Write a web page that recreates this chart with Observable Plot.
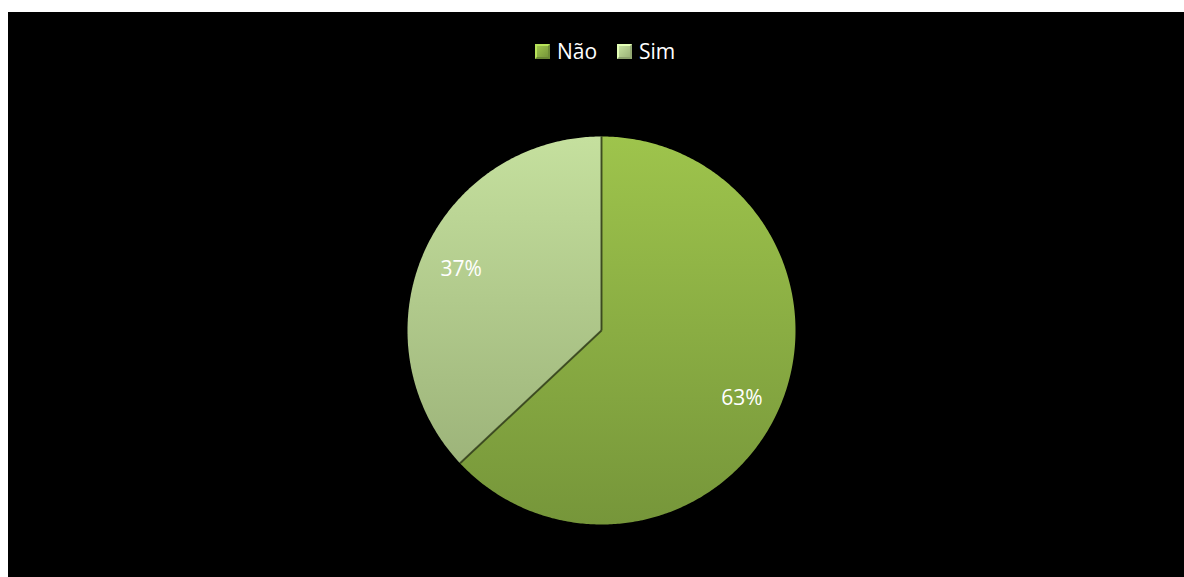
<!DOCTYPE html>
<html>
<head>
<meta charset="utf-8">
<script src="https://cdn.jsdelivr.net/npm/d3@7"></script>
<script src="https://cdn.jsdelivr.net/npm/@observablehq/plot@0.6"></script>
<style>
  html, body { margin: 0; padding: 0; background: #ffffff; }
  #frame { position: absolute; left: 8px; top: 12px; width: 1176px; height: 565px; background: #000; overflow: hidden; }
  #legend { position: absolute; left: 0; top: 0; width: 1176px; height: 60px; font-family: "Open Sans", sans-serif; font-size: 21px; color: #fff; }
  .item { position: absolute; top: 25px; display: flex; align-items: center; }
  .sw { width: 15px; height: 15px; margin-right: 7px; box-sizing: border-box; }
  #chart { position: absolute; left: 0; top: 60px; }
</style>
</head>
<body>
<div id="frame">
  <div id="legend"></div>
  <div id="chart"></div>
</div>
<script>
const categories = ["Não", "Sim"];
const values = [63, 37];
const labels = ["63%", "37%"];

const colorsTop = ["#9ec44c", "#c5e09e"];
const colorsBottom = ["#76963a", "#9db47a"];
const gradIds = ["gNao", "gSim"];

// legend
const legend = document.getElementById("legend");
const legendX = [527, 609];
categories.forEach((c, i) => {
  const it = document.createElement("div");
  it.className = "item";
  it.style.left = legendX[i] + "px";
  const sw = document.createElement("div");
  sw.className = "sw";
  sw.style.background = `linear-gradient(135deg, ${colorsTop[i]}, ${colorsBottom[i]})`;
  sw.style.border = "2px solid " + d3.color(colorsTop[i]).brighter(0.4);
  sw.style.borderBottomColor = d3.color(colorsBottom[i]).darker(0.3);
  sw.style.borderRightColor = d3.color(colorsBottom[i]).darker(0.2);
  const tx = document.createElement("span");
  tx.textContent = c;
  it.appendChild(sw); it.appendChild(tx);
  legend.appendChild(it);
});

// pie geometry in pixel-equivalent units
const R = 194;
const W = 1176, H = 505;
const cx = 593, cy = 258; // pixel position of centre inside svg
const arcs = d3.pie().sort(null).value(d => d)(values);

const poly = [];
arcs.forEach((a, i) => {
  const n = Math.max(2, Math.ceil((a.endAngle - a.startAngle) / 0.01));
  poly.push({k: i, x: 0, y: 0});
  for (let j = 0; j <= n; j++) {
    const t = a.startAngle + (a.endAngle - a.startAngle) * j / n;
    poly.push({k: i, x: R * Math.sin(t), y: R * Math.cos(t)});
  }
  poly.push({k: i, x: 0, y: 0});
});

// radial separators
const radii = arcs.map((a, i) => ({
  k: i, x1: 0, y1: 0, x2: R * Math.sin(a.startAngle), y2: R * Math.cos(a.startAngle)
}));

const labelR = 153;
const labelData = arcs.map((a, i) => {
  const m = (a.startAngle + a.endAngle) / 2;
  return {k: i, x: labelR * Math.sin(m), y: labelR * Math.cos(m), label: labels[i]};
});

const defs = () => {
  const ns = "http://www.w3.org/2000/svg";
  const d = document.createElementNS(ns, "defs");
  gradIds.forEach((id, i) => {
    const g = document.createElementNS(ns, "linearGradient");
    g.setAttribute("id", id);
    g.setAttribute("x1", "0"); g.setAttribute("y1", "0");
    g.setAttribute("x2", "0"); g.setAttribute("y2", "1");
    [[0, colorsTop[i]], [1, colorsBottom[i]]].forEach(([o, c]) => {
      const s = document.createElementNS(ns, "stop");
      s.setAttribute("offset", o);
      s.setAttribute("stop-color", c);
      g.appendChild(s);
    });
    d.appendChild(g);
  });
  return d;
};

const chart = Plot.plot({
  width: W,
  height: H,
  margin: 0,
  style: {background: "#000", overflow: "visible"},
  x: {domain: [-cx, W - cx], axis: null},
  y: {domain: [-(H - cy), cy], axis: null},
  marks: [
    defs,
    ...[1, 0].map(i => Plot.line(poly.filter(p => p.k === i), {
      x: "x", y: "y",
      fill: `url(#${gradIds[i]})`,
      stroke: "none",
      curve: "linear"
    })),
    Plot.link(radii, {
      x1: "x1", y1: "y1", x2: "x2", y2: "y2",
      stroke: "#2e3a18", strokeWidth: 2, strokeOpacity: 0.8
    }),
    Plot.text(labelData.filter(d => d.k === 1), {
      x: "x", y: "y", text: "label",
      fill: "#ffffff", fontSize: 21, fontFamily: "Open Sans", textAnchor: "middle"
    }),
    Plot.text(labelData.filter(d => d.k === 0), {
      x: "x", y: "y", text: "label", dy: 7,
      fill: "#ffffff", fontSize: 21, fontFamily: "Open Sans", textAnchor: "middle"
    })
  ]
});
document.getElementById("chart").appendChild(chart);
</script>
</body>
</html>
